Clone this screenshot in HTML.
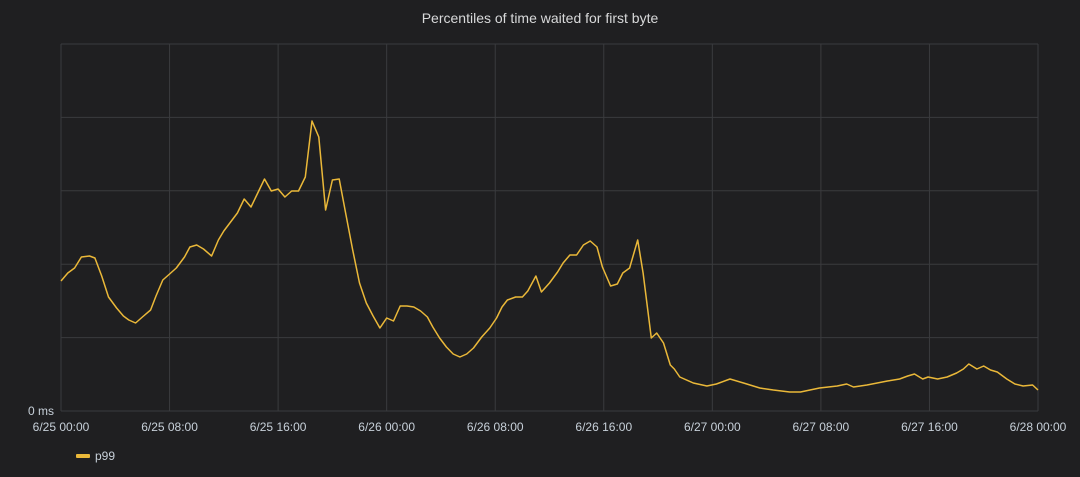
<!DOCTYPE html>
<html><head><meta charset="utf-8"><style>
html,body{margin:0;padding:0;background:#1f1f21;}
body{width:1080px;height:472px;overflow:hidden;font-family:"Liberation Sans",sans-serif;}
text{font-family:"Liberation Sans",sans-serif;}
</style></head><body>
<svg id="chart" width="1080" height="472" xmlns="http://www.w3.org/2000/svg">
<rect width="1080" height="472" fill="#1f1f21"/>
<text x="540" y="23" text-anchor="middle" fill="#d8d9da" font-size="14">Percentiles of time waited for first byte</text>
<g id="grid"></g>
<g id="xaxis"></g>
<text x="54" y="415" text-anchor="end" fill="#c7d0d9" font-size="12">0 ms</text>
<path id="line" fill="none" stroke="#eab839" stroke-width="1.5" stroke-linejoin="round"/>
<g>
<rect x="76" y="454" width="14" height="4" rx="1" fill="#eab839"/>
<text x="95" y="460" fill="#c7d0d9" font-size="12">p99</text>
</g>
</svg>
<script>
const hours=[0,0.5,1,1.5,2.1,2.5,3,3.5,4.1,4.6,5,5.5,6,6.6,7,7.5,8,8.5,9.1,9.5,10,10.5,11.1,11.6,12,12.5,13,13.5,14,15,15.5,16,16.5,17,17.5,18,18.5,19,19.5,20,20.5,21,21.5,22,22.5,23,23.5,24,24.5,25,25.5,26,26.5,27,27.4,27.9,28.4,28.9,29.4,29.9,30.4,31,31.6,32.1,32.5,32.9,33.5,34,34.4,35,35.4,36,36.6,37,37.5,38,38.5,39,39.5,39.9,40.5,41,41.4,41.9,42.5,42.9,43.5,43.9,44.4,44.9,45.2,45.6,46.6,47.6,48.3,49.3,50.3,51.5,52.5,53.7,54.5,55.9,57.2,57.9,58.4,59.4,60.9,61.8,62.4,62.9,63.5,63.9,64.6,65.3,66,66.5,66.9,67.5,68,68.5,69,69.7,70.3,70.9,71.6,72];
const p99=[130,138,143,154,155,153,135,114,103,95,91,88,94,101,115,131,137,143,154,164,166,162,155,171,180,189,198,212,204,232,220,222,214,220,220,234,290,274,201,231,232,196,161,128,108,95,83,93,90,105,105,104,100,94,84,73,64,57,54,57,63,74,83,93,104,111,114,114,120,135,119,128,139,148,156,156,166,170,164,144,125,127,138,143,171,138,73,78,68,46,42,34,28,25,27,32,28,23,21,19,19,23,25,27,24,26,30,32,35,37,32,34,32,34,38,42,47,42,45,41,39,32,27,25,26,21];
const xTicks=["6/25 00:00","6/25 08:00","6/25 16:00","6/26 00:00","6/26 08:00","6/26 16:00","6/27 00:00","6/27 08:00","6/27 16:00","6/28 00:00"];
const yGrid=[0,1,2,3,4,5];
const X0=61,X1=1038,Y0=411,Y1=44,HMAX=72,YMAX=5;
const xs=h=>X0+(X1-X0)*h/HMAX;
const ys=v=>Y0-(Y0-Y1)*v/YMAX;
const yv=v=>ys(v/73.4);
const NS="http://www.w3.org/2000/svg";
const grid=document.getElementById('grid'),xa=document.getElementById('xaxis');
yGrid.forEach(g=>{const l=document.createElementNS(NS,'line');


l.setAttribute('x1',X0);l.setAttribute('x2',X1);l.setAttribute('y1',ys(g));l.setAttribute('y2',ys(g));l.setAttribute('stroke','#3a3b3e');grid.appendChild(l);});
xTicks.forEach((t,i)=>{const x=xs(i*8);const l=document.createElementNS(NS,'line');


l.setAttribute('x1',x);l.setAttribute('x2',x);l.setAttribute('y1',Y1);l.setAttribute('y2',Y0);l.setAttribute('stroke','#3a3b3e');grid.appendChild(l);
const tx=document.createElementNS(NS,'text');


tx.setAttribute('x',x);tx.setAttribute('y',431);tx.setAttribute('text-anchor','middle');tx.setAttribute('fill','#c7d0d9');tx.setAttribute('font-size','12');tx.textContent=t;xa.appendChild(tx);});
document.getElementById('line').setAttribute('d',hours.map((h,i)=>(i?'L':'M')+xs(h).toFixed(1)+','+yv(p99[i]).toFixed(1)).join(''));
</script>
</body></html>
